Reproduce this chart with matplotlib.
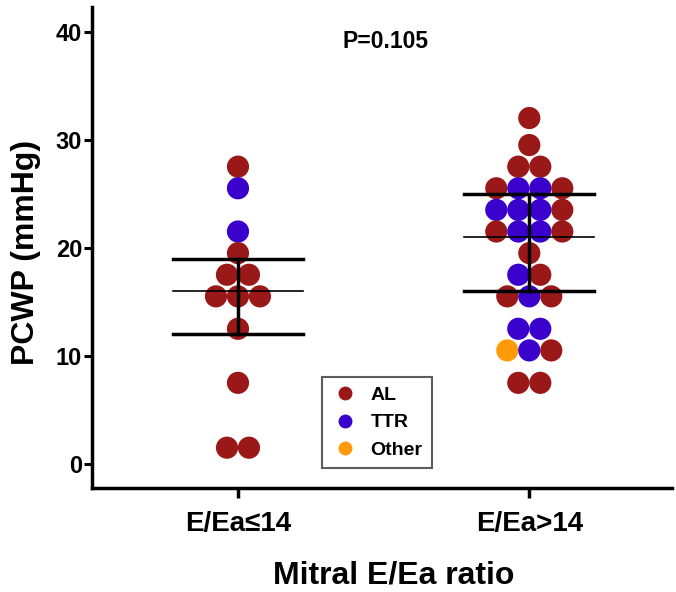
import matplotlib
matplotlib.use("Agg")
import matplotlib.pyplot as plt
from matplotlib.lines import Line2D

plt.rcParams['font.family'] = ['Liberation Sans', 'DejaVu Sans']
plt.rcParams['font.weight'] = 'bold'

# data, one row of the swarm per entry, left to right
groups = ['E/Ea\u226414', 'E/Ea>14']
g1_vals = [27.5, 25.5, 21.5, 19.5, 17.5, 17.5, 15.5, 15.5, 15.5, 12.5, 7.5, 1.5, 1.5]
g1_type = ['AL', 'TTR', 'TTR', 'AL', 'AL', 'AL', 'AL', 'AL', 'AL', 'AL', 'AL', 'AL', 'AL']
g2_vals = [32, 29.5, 27.5, 27.5,
           25.5, 25.5, 25.5, 25.5,
           23.5, 23.5, 23.5, 23.5,
           21.5, 21.5, 21.5, 21.5,
           19.5, 17.5, 17.5,
           15.5, 15.5, 15.5,
           12.5, 12.5,
           10.5, 10.5, 10.5,
           7.5, 7.5]
g2_type = ['AL', 'AL', 'AL', 'AL',
           'AL', 'TTR', 'TTR', 'AL',
           'TTR', 'TTR', 'TTR', 'AL',
           'AL', 'TTR', 'TTR', 'AL',
           'AL', 'TTR', 'AL',
           'AL', 'TTR', 'AL',
           'TTR', 'TTR',
           'Other', 'TTR', 'AL',
           'AL', 'AL']
mid = [16, 21]
low = [12, 16]
high = [19, 25]
p_text = 'P=0.105'

colors = {'AL': '#9a1818', 'TTR': '#3a00cc', 'Other': '#ff9a0a'}

fig = plt.figure(figsize=(6.76, 5.92), dpi=100)
ax = fig.add_axes([0.1357, 0.1762, 0.858, 0.8125])

spacing = 0.0755
for gi, (vals, types) in enumerate([(g1_vals, g1_type), (g2_vals, g2_type)]):
    # simple swarm: points with the same value sit side by side, centred
    rows = {}
    for v, t in zip(vals, types):
        rows.setdefault(v, []).append(t)
    for v, ts in rows.items():
        n = len(ts)
        for i, t in enumerate(ts):
            x = gi + (i - (n - 1) / 2) * spacing
            ax.scatter(x, v, s=255, color=colors[t], edgecolors='none', zorder=2)

hw = 0.223
for gi in range(2):
    ax.plot([gi - hw, gi + hw], [high[gi], high[gi]], color='black', lw=2.5, zorder=3)
    ax.plot([gi - hw, gi + hw], [low[gi], low[gi]], color='black', lw=2.5, zorder=3)
    ax.plot([gi - hw, gi + hw], [mid[gi], mid[gi]], color='black', lw=1.2, zorder=3)
    ax.plot([gi, gi], [low[gi], high[gi]], color='black', lw=2.5, zorder=3)

ax.set_xlim(-0.502, 1.489)
ax.set_ylim(-2.2, 42.3)
ax.set_yticks([0, 10, 20, 30, 40])
ax.set_xticks([0, 1])
ax.set_xticklabels(groups)

for s in ['top', 'right']:
    ax.spines[s].set_visible(False)
for s in ['left', 'bottom']:
    ax.spines[s].set_linewidth(2.5)

ax.tick_params(axis='y', labelsize=17, width=2.2, length=6, pad=1)
ax.tick_params(axis='x', labelsize=20, width=2.5, length=7, pad=10)

ax.set_ylabel('PCWP (mmHg)', fontsize=23, fontweight='bold')
ax.yaxis.set_label_coords(-0.088, 0.49)
ax.set_xlabel('Mitral E/Ea ratio', fontsize=23, fontweight='bold', va='center')
ax.xaxis.set_label_coords(0.52, -0.183)

ax.text(0.505, 39.1, p_text, fontsize=16.5, fontweight='bold', ha='center', va='center')

handles = [Line2D([], [], marker='o', ls='none', markersize=10, markerfacecolor=colors[k],
                  markeredgecolor='none', label=k) for k in ['AL', 'TTR', 'Other']]
leg = ax.legend(handles=handles, loc='upper left', bbox_to_anchor=(0.3966, 0.2308),
                fancybox=False, frameon=True, prop={'size': 14, 'weight': 'bold'},
                borderpad=0.5, labelspacing=0.5, handletextpad=0.6, borderaxespad=0,
                handlelength=1.4)
leg.get_frame().set_edgecolor('#333333')
leg.get_frame().set_linewidth(1.5)

fig.savefig('out.png', dpi=100)
